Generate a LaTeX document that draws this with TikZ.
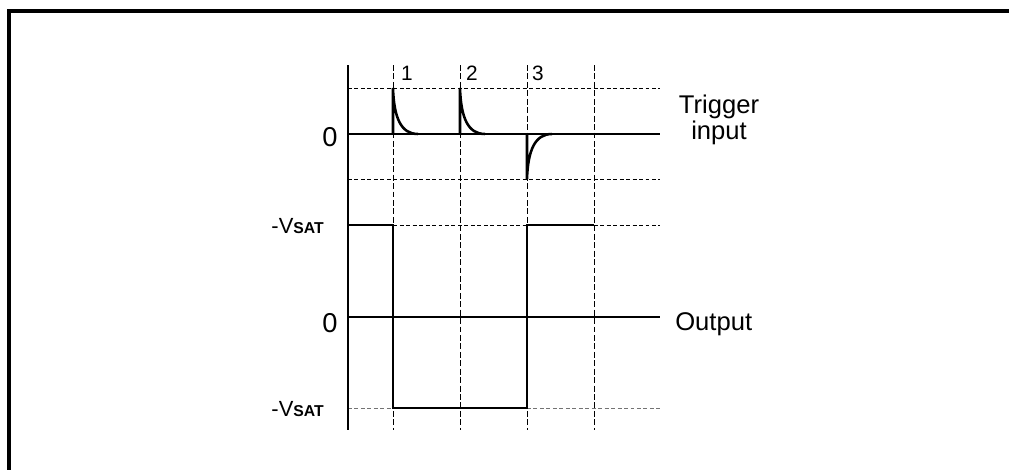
\documentclass[tikz,border=0pt]{standalone}
\usepackage{fontspec}
\setmainfont{Liberation Sans}
\usetikzlibrary{calc}
\newcommand{\vsat}{{\fontsize{15.6}{16}\selectfont -V}{\fontsize{11.2}{12}\selectfont\bfseries SAT}}
\tikzset{
    wave/.style={line width=2.1pt, line join=miter},
    spike/.style={line width=1.8pt},
    guide/.style={line width=0.7pt, dash pattern=on 2.8pt off 1.8pt},
    vguide/.style={line width=0.7pt, dash pattern=on 4.2pt off 1.8pt},
    guidegray/.style={guide, black!55},
    frame/.style={line width=2.8pt},
    lbl/.style={inner sep=0pt, anchor=base, font=\fontsize{18.2}{15.6}\selectfont},
    zero/.style={inner sep=0pt, anchor=center, font=\fontsize{19.4}{20}\selectfont},
    tick/.style={inner sep=0pt, anchor=base, font=\fontsize{14.8}{16}\selectfont}
}
\begin{document}
\begin{tikzpicture}[x=0.025cm, y=-0.025cm]
              \path[use as bounding box] (0,0) rectangle (1009,470);
              \draw[frame] (1009,11) -- (9,11) -- (9,470);

              % time marks
              \foreach \x [count=\i] in {393,460,527,594}
                  \draw[vguide] (\x,65) coordinate (top\i) -- (\x,430) coordinate (bot\i);
              \draw[guide] (348,88) -- (660,88) (348,179) -- (660,179) (348,225) -- (660,225);
              \draw[guidegray] (348,408) -- (393,408) (527,408) -- (660,408);

              % axes
              \coordinate (axtop) at (348,65);
              \coordinate (axbot) at (348,430);
              \coordinate (trig0) at (348,134);
              \coordinate (trigend) at (660,134);
              \coordinate (out0) at (348,317);
              \coordinate (outend) at (660,317);
              \draw[wave] (axtop) -- (axbot);
              \draw[wave] (trig0) -- (trigend);
              \draw[wave] (out0) -- (outend);

              % trigger pulses
              \draw[spike] (393,134) -- (393,88) .. controls (394,118) and (401,134) .. (418,134);
              \draw[spike] (460,134) -- (460,88) .. controls (461,118) and (468,134) .. (485,134);
              \draw[spike] (527,134) -- (527,179) .. controls (528,150) and (535,134) .. (552,134);

              % output
              \draw[wave] (348,225) -- (393,225) -- (393,408) -- (527,408) -- (527,225) -- (594,225);

              \path
                  node[tick] (n1) at (407,80) {1}
                  node[tick] (n2) at (472,80) {2}
                  node[tick] (n3) at (538,80) {3};
              \path
                  node[zero] (z1) at (330,137) {0}
                  node[zero] (z2) at (330,323) {0}
                  node[inner sep=0pt, anchor=base east] (vhi) at (324,233) {\vsat}
                  node[inner sep=0pt, anchor=base east] (vlo) at (324,416) {\vsat};
              \path
                  node[lbl, align=center, anchor=north] (trig) at (719,95) {Trigger\\input}
                  node[lbl, anchor=base west] (out) at (675,330) {Output};
          \end{tikzpicture}
\end{document}
